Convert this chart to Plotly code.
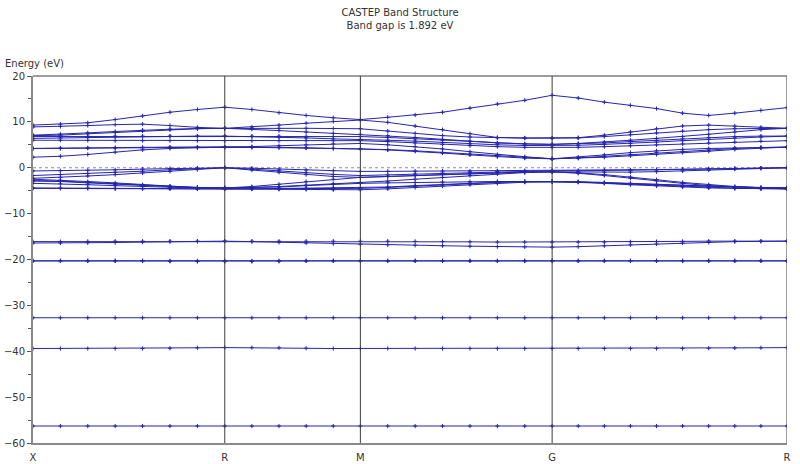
import plotly.graph_objects as go

# k-path distances (X -> R -> M -> G -> R), 29 k-points
kdist = [0.0, 0.1010, 0.2020, 0.3030, 0.4041, 0.5051, 0.6061, 0.7071,
         0.8071, 0.9071, 1.0071, 1.1071, 1.2071,
         1.3081, 1.4091, 1.5101, 1.6112, 1.7122, 1.8132, 1.9142,
         2.0104, 2.1066, 2.2029, 2.2991, 2.3953, 2.4915, 2.5878, 2.6840, 2.7802]
tick_pos = [0.0, 0.7071, 1.2071, 1.9142, 2.7802]
tick_labels = ["X", "R", "M", "G", "R"]

# conduction bands (eV)
cb1 = [2.3, 2.5, 2.9, 3.4, 3.9, 4.2, 4.4, 4.5, 4.45, 4.4, 4.3, 4.2, 4.1, 3.9, 3.6, 3.2, 2.8, 2.4, 2.1, 1.95, 2.05, 2.3, 2.6, 2.9, 3.3, 3.6, 4.0, 4.3, 4.5]
cb2 = [4.2, 4.2, 4.25, 4.3, 4.35, 4.4, 4.45, 4.5, 4.5, 4.45, 4.35, 4.25, 4.15, 3.95, 3.7, 3.35, 2.95, 2.55, 2.2, 1.95, 2.15, 2.5, 2.9, 3.3, 3.6, 3.9, 4.2, 4.4, 4.5]
cb3 = [4.2, 4.3, 4.35, 4.4, 4.45, 4.5, 4.5, 4.5, 4.6, 4.8, 5.0, 5.2, 5.3, 5.0, 4.6, 4.1, 3.5, 2.9, 2.4, 1.95, 2.3, 2.8, 3.3, 3.7, 4.0, 4.2, 4.35, 4.45, 4.5]
cb4 = [6.0, 6.0, 5.95, 5.9, 5.9, 5.9, 5.9, 5.9, 5.9, 5.9, 5.9, 5.9, 5.9, 5.7, 5.4, 5.1, 4.8, 4.6, 4.45, 4.4, 4.45, 4.6, 4.8, 5.0, 5.2, 5.4, 5.6, 5.8, 5.9]
cb5 = [6.4, 6.5, 6.6, 6.7, 6.8, 6.85, 6.9, 6.9, 6.8, 6.6, 6.5, 6.3, 6.2, 6.0, 5.8, 5.5, 5.2, 5.0, 4.85, 4.8, 4.9, 5.1, 5.3, 5.6, 5.9, 6.2, 6.5, 6.7, 6.9]
cb6 = [6.8, 6.8, 6.85, 6.9, 6.9, 6.9, 6.9, 6.9, 6.9, 6.9, 6.85, 6.8, 6.8, 6.6, 6.3, 6.0, 5.7, 5.4, 5.2, 5.1, 5.2, 5.4, 5.7, 6.0, 6.3, 6.6, 6.8, 6.9, 6.9]
cb7 = [7.0, 7.1, 7.4, 7.7, 8.0, 8.3, 8.5, 8.6, 8.4, 8.1, 7.8, 7.5, 7.3, 7.0, 6.6, 6.2, 5.8, 5.4, 5.2, 5.1, 5.3, 5.6, 6.0, 6.4, 6.8, 7.3, 7.8, 8.3, 8.6]
cb8 = [7.1, 7.3, 7.6, 7.9, 8.2, 8.4, 8.55, 8.6, 8.6, 8.6, 8.6, 8.55, 8.5, 8.0, 7.5, 7.0, 6.7, 6.5, 6.45, 6.45, 6.5, 6.8, 7.2, 7.6, 8.0, 8.3, 8.5, 8.6, 8.6]
cb9 = [8.9, 9.0, 9.2, 9.4, 9.5, 9.2, 8.8, 8.6, 8.9, 9.3, 9.7, 10.1, 10.4, 9.9, 9.1, 8.3, 7.4, 6.6, 6.5, 6.45, 6.55, 7.1, 7.8, 8.5, 9.1, 9.3, 9.1, 8.8, 8.6]
cb10 = [9.3, 9.5, 9.8, 10.5, 11.3, 12.1, 12.7, 13.2, 12.7, 12.0, 11.4, 10.9, 10.5, 11.0, 11.5, 12.1, 13.0, 13.9, 14.7, 15.8, 15.2, 14.3, 13.6, 12.9, 11.9, 11.4, 11.9, 12.5, 13.1]

# valence bands (eV)
vb1 = [-0.7, -0.65, -0.55, -0.45, -0.3, -0.15, -0.05, 0.0, -0.1, -0.3, -0.5, -0.65, -0.8, -0.78, -0.75, -0.72, -0.7, -0.68, -0.66, -0.65, -0.62, -0.55, -0.48, -0.4, -0.32, -0.24, -0.15, -0.07, 0.0]
vb2 = [-1.7, -1.5, -1.25, -1.0, -0.75, -0.45, -0.2, 0.0, -0.3, -0.7, -1.1, -1.45, -1.7, -1.55, -1.35, -1.15, -0.95, -0.8, -0.7, -0.65, -0.66, -0.62, -0.56, -0.48, -0.38, -0.27, -0.16, -0.07, 0.0]
vb3 = [-2.3, -2.1, -1.8, -1.5, -1.15, -0.8, -0.4, 0.0, -0.5, -1.0, -1.5, -1.9, -2.1, -1.9, -1.65, -1.4, -1.2, -1.05, -0.95, -0.9, -0.95, -1.0, -0.95, -0.85, -0.7, -0.5, -0.3, -0.1, 0.0]
vb4 = [-2.5, -2.7, -3.0, -3.3, -3.7, -4.0, -4.3, -4.4, -4.1, -3.6, -3.0, -2.5, -2.1, -1.9, -1.7, -1.45, -1.25, -1.05, -0.95, -0.9, -1.1, -1.5, -2.0, -2.6, -3.2, -3.7, -4.1, -4.3, -4.4]
vb5 = [-2.8, -2.9, -3.2, -3.5, -3.8, -4.1, -4.3, -4.4, -4.3, -4.1, -3.8, -3.5, -3.3, -2.9, -2.5, -2.1, -1.7, -1.35, -1.05, -0.9, -1.2, -1.7, -2.3, -2.9, -3.4, -3.9, -4.2, -4.35, -4.4]
vb6 = [-2.9, -3.0, -3.3, -3.6, -3.9, -4.15, -4.35, -4.4, -4.35, -4.2, -3.9, -3.6, -3.4, -3.3, -3.2, -3.1, -3.05, -3.0, -3.0, -3.0, -3.1, -3.3, -3.5, -3.7, -3.9, -4.1, -4.25, -4.35, -4.4]
vb7 = [-3.4, -3.5, -3.7, -3.9, -4.1, -4.3, -4.5, -4.6, -4.6, -4.55, -4.5, -4.45, -4.4, -4.2, -3.9, -3.6, -3.35, -3.15, -3.05, -3.0, -3.05, -3.2, -3.4, -3.6, -3.85, -4.1, -4.3, -4.5, -4.6]
vb8 = [-4.4, -4.4, -4.45, -4.5, -4.5, -4.55, -4.6, -4.6, -4.6, -4.6, -4.55, -4.5, -4.5, -4.3, -4.0, -3.7, -3.45, -3.2, -3.05, -3.0, -3.1, -3.35, -3.6, -3.85, -4.1, -4.3, -4.45, -4.55, -4.6]
vb9 = [-4.5, -4.5, -4.5, -4.55, -4.6, -4.6, -4.6, -4.6, -4.65, -4.7, -4.75, -4.8, -4.8, -4.6, -4.3, -4.0, -3.7, -3.4, -3.15, -3.0, -3.15, -3.4, -3.7, -3.95, -4.2, -4.4, -4.5, -4.55, -4.6]

# semi-core bands (eV)
sc1 = [-16.1, -16.1, -16.05, -16.0, -16.0, -16.0, -16.0, -16.0, -16.0, -16.0, -16.0, -16.0, -16.0, -16.0, -16.05, -16.1, -16.15, -16.2, -16.2, -16.2, -16.2, -16.2, -16.15, -16.1, -16.05, -16.0, -16.0, -16.0, -16.0]
sc2 = [-16.4, -16.4, -16.35, -16.3, -16.2, -16.1, -16.05, -16.0, -16.1, -16.25, -16.4, -16.55, -16.7, -16.8, -16.9, -17.0, -17.1, -17.2, -17.25, -17.3, -17.2, -17.0, -16.8, -16.6, -16.4, -16.25, -16.1, -16.05, -16.0]
sd1 = [-20.3, -20.3, -20.3, -20.3, -20.3, -20.3, -20.3, -20.3, -20.3, -20.3, -20.3, -20.3, -20.3, -20.3, -20.3, -20.3, -20.3, -20.3, -20.3, -20.3, -20.3, -20.3, -20.3, -20.3, -20.3, -20.3, -20.3, -20.3, -20.3]
sd2 = [-20.3, -20.3, -20.3, -20.3, -20.3, -20.4, -20.45, -20.45, -20.45, -20.4, -20.3, -20.3, -20.3, -20.3, -20.3, -20.3, -20.3, -20.3, -20.3, -20.3, -20.3, -20.3, -20.3, -20.3, -20.3, -20.3, -20.3, -20.3, -20.3]
core1 = [-32.7, -32.7, -32.7, -32.7, -32.7, -32.7, -32.7, -32.7, -32.7, -32.7, -32.7, -32.7, -32.7, -32.7, -32.7, -32.7, -32.7, -32.7, -32.7, -32.7, -32.7, -32.7, -32.7, -32.7, -32.7, -32.7, -32.7, -32.7, -32.7]
core2 = [-39.4, -39.4, -39.4, -39.4, -39.4, -39.35, -39.25, -39.2, -39.2, -39.25, -39.35, -39.4, -39.4, -39.4, -39.4, -39.4, -39.4, -39.4, -39.4, -39.4, -39.4, -39.4, -39.4, -39.4, -39.4, -39.35, -39.3, -39.25, -39.2]
core3 = [-56.3, -56.3, -56.3, -56.3, -56.3, -56.3, -56.3, -56.3, -56.3, -56.3, -56.3, -56.3, -56.3, -56.3, -56.3, -56.3, -56.3, -56.3, -56.3, -56.3, -56.3, -56.3, -56.3, -56.3, -56.3, -56.3, -56.3, -56.3, -56.3]

bands = [core3, core2, core1, sd1, sd2, sc1, sc2,
         vb9, vb8, vb7, vb6, vb5, vb4, vb3, vb2, vb1,
         cb1, cb2, cb3, cb4, cb5, cb6, cb7, cb8, cb9, cb10]

BAND_COLOR = "#2525b0"
fig = go.Figure()
for b in bands:
    fig.add_trace(go.Scatter(
        x=kdist, y=b, mode="lines+markers",
        line=dict(color=BAND_COLOR, width=1),
        marker=dict(symbol="cross-thin", size=3,
                    line=dict(color=BAND_COLOR, width=1)),
        hoverinfo="skip", showlegend=False))

shapes = []
# Fermi level dashed line
shapes.append(dict(type="line", xref="paper", yref="y", x0=0, x1=1, y0=0, y1=0,
                   line=dict(color="#8c8c8c", width=1, dash="3px,3px"), layer="below"))
# vertical high-symmetry lines and right border
for xv in tick_pos[1:]:
    shapes.append(dict(type="line", xref="x", yref="paper", x0=xv, x1=xv, y0=0, y1=1,
                       line=dict(color="#3c3c3c", width=1), layer="above"))
# top border
shapes.append(dict(type="line", xref="paper", yref="paper", x0=0, x1=1, y0=1, y1=1,
                   line=dict(color="#3c3c3c", width=1), layer="above"))

fig.update_layout(
    width=800, height=464,
    margin=dict(l=33, r=13, t=76, b=21, autoexpand=False),
    paper_bgcolor="white", plot_bgcolor="white",
    font=dict(family="DejaVu Sans", size=10, color="#333333"),
    title=dict(text="CASTEP Band Structure<br>Band gap is 1.892 eV",
               x=0.5, xanchor="center", y=1 - 16 / 464, yanchor="middle",
               font=dict(family="DejaVu Sans", size=10, color="#333333")),
    shapes=shapes,
    hovermode=False,
    annotations=[dict(text="Energy (eV)", xref="paper", yref="paper",
                      x=-0.040, y=1.035, xanchor="left", yanchor="middle",
                      showarrow=False, font=dict(size=10, color="#333333"))],
)
fig.update_xaxes(range=[0, kdist[-1]], tickvals=tick_pos, ticktext=tick_labels,
                 showgrid=False, zeroline=False, showline=True, linecolor="#8a8a8a",
                 linewidth=2, ticks="outside", ticklen=4, tickcolor="rgba(0,0,0,0)",
                 automargin=False)
fig.update_yaxes(range=[-60, 20], dtick=10, tick0=0, showgrid=False, zeroline=False,
                 showline=True, linecolor="#8a8a8a", linewidth=2,
                 ticks="outside", ticklen=4, tickcolor="#555555", automargin=False,
                 minor=dict(dtick=5, ticks="outside", ticklen=3, tickcolor="#555555"))

fig.write_html("out.html", config={"displayModeBar": False},
               post_script="document.body.style.margin='0';")
